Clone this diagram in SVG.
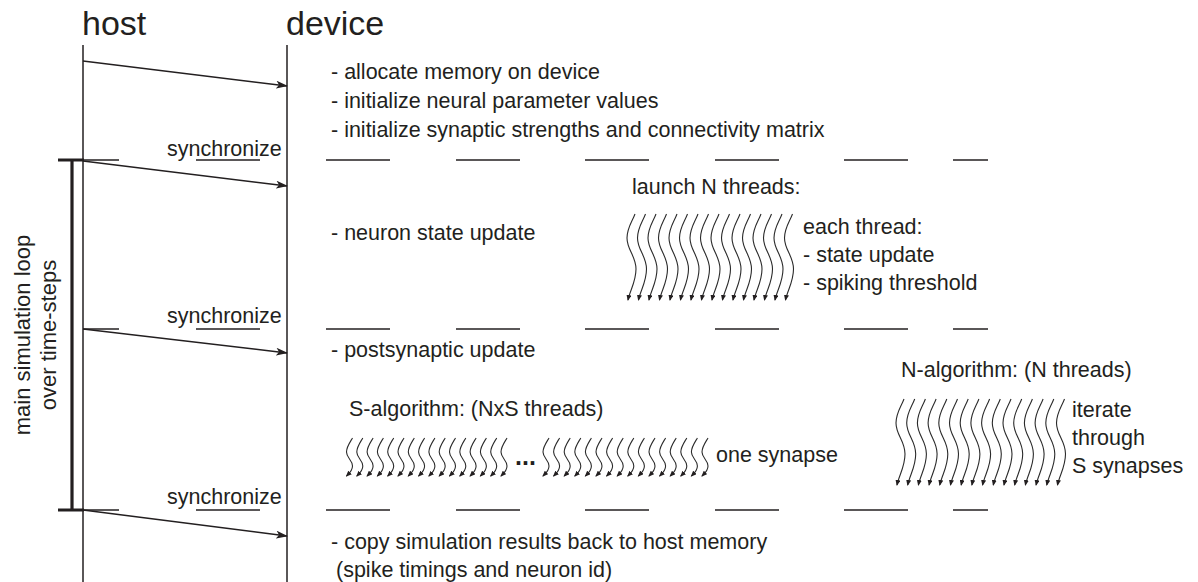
<svg xmlns="http://www.w3.org/2000/svg" xmlns:xlink="http://www.w3.org/1999/xlink" width="1198" height="582" viewBox="0 0 1198 582">
<style>
text{font-family:"Liberation Sans",Arial,sans-serif;fill:#231f20}
.t{font-size:21.5px}
.v{font-size:22px}
.h{font-size:34px}
.ln{stroke:#231f20;stroke-width:1.5;fill:none}
.dash{stroke:#231f20;stroke-width:1.6;fill:none}
.thr{stroke:#2b2b2b;stroke-width:1.1;fill:none;marker-end:url(#ta)}
.msg{stroke:#231f20;stroke-width:1.5;fill:none;marker-end:url(#ma)}
</style>
<defs>
<marker id="ma" markerUnits="userSpaceOnUse" markerWidth="12" markerHeight="8" refX="11" refY="4" orient="auto">
<path d="M0,0 L12,4 L0,8 L3,4 z" fill="#231f20"/>
</marker>
<marker id="ta" markerUnits="userSpaceOnUse" markerWidth="6" markerHeight="5" refX="5" refY="2.5" orient="auto">
<path d="M0,0 L6,2.5 L0,5 z" fill="#231f20"/>
</marker>
<path id="thL" class="thr" d="M7,0 C4,8 -1,14 -1,24 C-1,36 8,42 8,55 C8,68 2,76 0,86"/>
<path id="thS" class="thr" d="M6,0 C3,5 0,9 0,14 C0,20 6,22 6,28 C6,33 2,36 0,38"/>
<g id="syncRow">
<line class="dash" x1="83" y1="0" x2="119" y2="0"/>
<line class="dash" x1="196" y1="0" x2="260" y2="0"/>
<line class="dash" x1="326" y1="0" x2="390" y2="0"/>
<line class="dash" x1="456" y1="0" x2="520" y2="0"/>
<line class="dash" x1="585" y1="0" x2="649" y2="0"/>
<line class="dash" x1="715" y1="0" x2="779" y2="0"/>
<line class="dash" x1="844" y1="0" x2="908" y2="0"/>
<line class="dash" x1="953" y1="0" x2="988" y2="0"/>
</g>
</defs>

<g id="host">
<text class="h" x="82" y="35">host</text>
<line class="ln" x1="83" y1="45" x2="83" y2="582"/>
</g>
<g id="device">
<text class="h" x="286" y="35">device</text>
<line class="ln" x1="287" y1="45" x2="287" y2="582"/>
</g>

<g id="loop">
<line x1="72" y1="160" x2="72" y2="510" stroke="#231f20" stroke-width="3.2"/>
<line x1="58" y1="160" x2="84" y2="160" stroke="#231f20" stroke-width="3"/>
<line x1="58" y1="510" x2="84" y2="510" stroke="#231f20" stroke-width="3"/>
<text class="v" text-anchor="middle" transform="translate(30,335) rotate(-90)">main simulation loop</text>
<text class="v" text-anchor="middle" transform="translate(56,335) rotate(-90)">over time-steps</text>
</g>

<g id="connectors">
<line class="msg" x1="83" y1="61" x2="287" y2="86"/>
<line class="msg" x1="83" y1="161" x2="287" y2="186"/>
<line class="msg" x1="83" y1="329" x2="287" y2="353"/>
<line class="msg" x1="83" y1="510" x2="287" y2="536"/>
</g>

<g id="sync1">
<use xlink:href="#syncRow" transform="translate(0,160)"/>
<text class="t" x="167" y="156">synchronize</text>
</g>
<g id="sync2">
<use xlink:href="#syncRow" transform="translate(0,329)"/>
<text class="t" x="167" y="323">synchronize</text>
</g>
<g id="sync3">
<use xlink:href="#syncRow" transform="translate(0,510)"/>
<text class="t" x="167" y="504">synchronize</text>
</g>

<g id="init">
<text class="t" x="331" y="79">- allocate memory on device</text>
<text class="t" x="331" y="108">- initialize neural parameter values</text>
<text class="t" x="331" y="137">- initialize synaptic strengths and connectivity matrix</text>
</g>

<g id="neuronUpdate">
<text class="t" x="331" y="240">- neuron state update</text>
<text class="t" x="632" y="194">launch N threads:</text>
<g id="threadsN1">
<use xlink:href="#thL" x="628" y="214"/><use xlink:href="#thL" x="638.5" y="214"/><use xlink:href="#thL" x="649" y="214"/><use xlink:href="#thL" x="659.5" y="214"/>
<use xlink:href="#thL" x="670" y="214"/><use xlink:href="#thL" x="680.5" y="214"/><use xlink:href="#thL" x="691" y="214"/><use xlink:href="#thL" x="701.5" y="214"/>
<use xlink:href="#thL" x="712" y="214"/><use xlink:href="#thL" x="722.5" y="214"/><use xlink:href="#thL" x="733" y="214"/><use xlink:href="#thL" x="743.5" y="214"/>
<use xlink:href="#thL" x="754" y="214"/><use xlink:href="#thL" x="764.5" y="214"/><use xlink:href="#thL" x="775" y="214"/><use xlink:href="#thL" x="785.5" y="214"/>
</g>
<text class="t" x="803" y="234">each thread:</text>
<text class="t" x="803" y="262">- state update</text>
<text class="t" x="803" y="290">- spiking threshold</text>
</g>

<g id="postsynaptic">
<text class="t" x="331" y="357">- postsynaptic update</text>
</g>

<g id="sAlgorithm">
<text class="t" x="349" y="416">S-algorithm: (NxS threads)</text>
<g id="threadsS">
<use xlink:href="#thS" x="346.5" y="438"/><use xlink:href="#thS" x="356.8" y="438"/><use xlink:href="#thS" x="367.1" y="438"/><use xlink:href="#thS" x="377.4" y="438"/>
<use xlink:href="#thS" x="387.7" y="438"/><use xlink:href="#thS" x="398" y="438"/><use xlink:href="#thS" x="408.3" y="438"/><use xlink:href="#thS" x="418.6" y="438"/>
<use xlink:href="#thS" x="428.9" y="438"/><use xlink:href="#thS" x="439.2" y="438"/><use xlink:href="#thS" x="449.5" y="438"/><use xlink:href="#thS" x="459.8" y="438"/>
<use xlink:href="#thS" x="470.1" y="438"/><use xlink:href="#thS" x="480.4" y="438"/><use xlink:href="#thS" x="490.7" y="438"/><use xlink:href="#thS" x="501" y="438"/>
<use xlink:href="#thS" x="543" y="438"/><use xlink:href="#thS" x="553.6" y="438"/><use xlink:href="#thS" x="564.2" y="438"/><use xlink:href="#thS" x="574.8" y="438"/>
<use xlink:href="#thS" x="585.4" y="438"/><use xlink:href="#thS" x="596" y="438"/><use xlink:href="#thS" x="606.6" y="438"/><use xlink:href="#thS" x="617.2" y="438"/>
<use xlink:href="#thS" x="627.8" y="438"/><use xlink:href="#thS" x="638.4" y="438"/><use xlink:href="#thS" x="649" y="438"/><use xlink:href="#thS" x="659.6" y="438"/>
<use xlink:href="#thS" x="670.2" y="438"/><use xlink:href="#thS" x="680.8" y="438"/><use xlink:href="#thS" x="691.4" y="438"/><use xlink:href="#thS" x="702" y="438"/>
</g>
<text x="515" y="465" font-size="25" font-weight="bold">...</text>
<text class="t" x="716" y="462">one synapse</text>
</g>

<g id="nAlgorithm">
<text class="t" x="901" y="377">N-algorithm: (N threads)</text>
<g id="threadsN2">
<use xlink:href="#thL" x="897" y="399"/><use xlink:href="#thL" x="907.7" y="399"/><use xlink:href="#thL" x="918.4" y="399"/><use xlink:href="#thL" x="929.1" y="399"/>
<use xlink:href="#thL" x="939.8" y="399"/><use xlink:href="#thL" x="950.5" y="399"/><use xlink:href="#thL" x="961.2" y="399"/><use xlink:href="#thL" x="971.9" y="399"/>
<use xlink:href="#thL" x="982.6" y="399"/><use xlink:href="#thL" x="993.3" y="399"/><use xlink:href="#thL" x="1004" y="399"/><use xlink:href="#thL" x="1014.7" y="399"/>
<use xlink:href="#thL" x="1025.4" y="399"/><use xlink:href="#thL" x="1036.1" y="399"/><use xlink:href="#thL" x="1046.8" y="399"/><use xlink:href="#thL" x="1057.5" y="399"/>
</g>
<text class="t" x="1072" y="417">iterate</text>
<text class="t" x="1072" y="445">through</text>
<text class="t" x="1072" y="473">S synapses</text>
</g>

<g id="copyBack">
<text class="t" x="331" y="549">- copy simulation results back to host memory</text>
<text class="t" x="336" y="577">(spike timings and neuron id)</text>
</g>
</svg>
